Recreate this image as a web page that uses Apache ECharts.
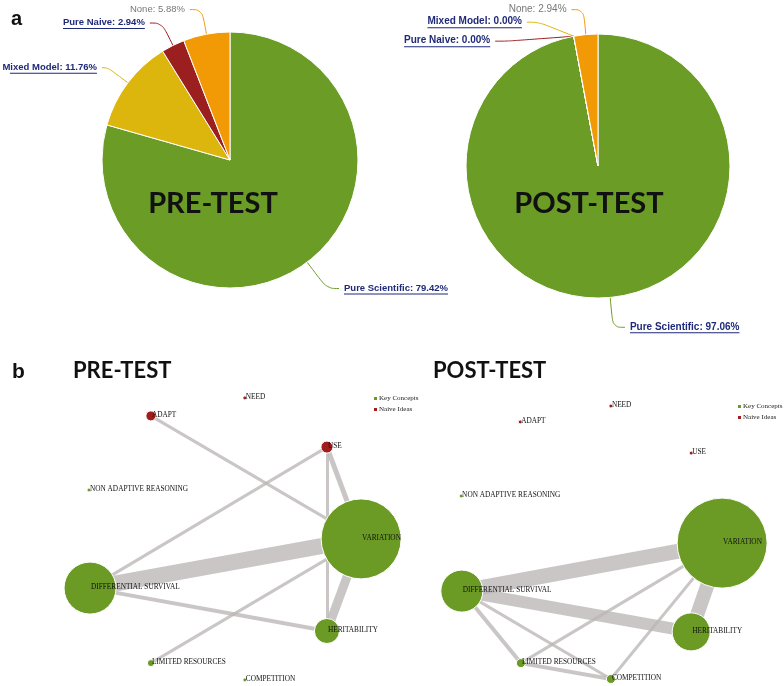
<!DOCTYPE html>
<html>
<head>
<meta charset="utf-8">
<script src="https://cdn.jsdelivr.net/npm/echarts@6/dist/echarts.min.js"></script>
<style>html,body{margin:0;padding:0;background:#fff;}#c{width:784px;height:686px;}</style>
</head>
<body>
<div id="c"></div>
<script>
// ---- Data: pie charts (a) ----
const pieNames = ['Pure Scientific', 'Mixed Model', 'Pure Naive', 'None'];
const preTestPct = [79.42, 11.76, 2.94, 5.88];
const postTestPct = [97.06, 0.00, 0.00, 2.94];

// ---- Data: concept networks (b) ----
const conceptNames = ['NEED', 'ADAPT', 'USE', 'NON ADAPTIVE REASONING', 'VARIATION',
  'DIFFERENTIAL SURVIVAL', 'HERITABILITY', 'LIMITED RESOURCES', 'COMPETITION'];
const conceptCategory = [1, 1, 1, 0, 0, 0, 0, 0, 0];
const categoryNames = ['Key Concepts', 'Naive Ideas'];
// node positions (0-100 layout space) and node sizes
const preX = [56.9, 30.8, 79.7, 13.6, 89.2, 13.9, 79.7, 30.8, 56.9];
const preY = [4.3, 10.3, 20.7, 35.0, 51.3, 67.7, 82.0, 92.7, 98.3];
const preSize = [4, 10, 12, 4, 80, 52, 25, 7, 4];
const postX = [55.8, 30.6, 78.1, 14.2, 86.7, 14.4, 78.1, 30.8, 55.8];
const postY = [7.0, 12.3, 22.7, 37.0, 52.7, 68.7, 82.3, 92.7, 98.0];
const postSize = [4, 4, 4, 4, 90, 42, 38, 9, 9];
// links: source, target, strength
const preLinks = [
  ['ADAPT', 'VARIATION', 3],
  ['USE', 'DIFFERENTIAL SURVIVAL', 3],
  ['USE', 'VARIATION', 5],
  ['USE', 'HERITABILITY', 3],
  ['DIFFERENTIAL SURVIVAL', 'VARIATION', 16],
  ['DIFFERENTIAL SURVIVAL', 'HERITABILITY', 4],
  ['VARIATION', 'HERITABILITY', 9],
  ['LIMITED RESOURCES', 'VARIATION', 3]
];
const postLinks = [
  ['DIFFERENTIAL SURVIVAL', 'VARIATION', 15],
  ['DIFFERENTIAL SURVIVAL', 'HERITABILITY', 12],
  ['VARIATION', 'HERITABILITY', 14],
  ['DIFFERENTIAL SURVIVAL', 'LIMITED RESOURCES', 4],
  ['DIFFERENTIAL SURVIVAL', 'COMPETITION', 3],
  ['LIMITED RESOURCES', 'VARIATION', 3],
  ['COMPETITION', 'VARIATION', 3],
  ['LIMITED RESOURCES', 'COMPETITION', 4]
];

// ---- Styles ----
const pieColors = ['#6a9c26', '#dcb60c', '#9c1f1f', '#f29a05'];
const nodeColors = ['#6b9b24', '#a11c1c'];
const labelBlue = '#1f2a78';

function pieSeries(values, center, radius, fs, lineLens) {
  return {
    type: 'pie',
    center: center,
    radius: radius,
    startAngle: 90,
    clockwise: true,
    silent: true,
    animation: false,
    itemStyle: { borderColor: '#fff', borderWidth: 1 },
    label: {
      show: true,
      position: 'outside',
      overflow: 'none',
      formatter: p => p.name === 'None'
        ? '{g|' + p.name + ': ' + p.value.toFixed(2) + '%}'
        : '{u|' + p.name + ': ' + p.value.toFixed(2) + '%}\n{l|}',
      rich: {
        u: { fontFamily: 'Liberation Sans', fontWeight: 'bold', fontSize: fs, color: labelBlue, lineHeight: 11 },
        l: { width: '100%', height: 1, lineHeight: 1, backgroundColor: labelBlue },
        g: { fontFamily: 'Liberation Sans', fontSize: fs, color: '#777', lineHeight: 12 }
      }
    },
    labelLine: { show: true, length: 25, length2: 12, smooth: 0.4, lineStyle: { width: 1 } },
    data: pieNames.map((n, i) => ({
      name: n, value: values[i], itemStyle: { color: pieColors[i] },
      labelLine: { length: lineLens[i][0], length2: lineLens[i][1], lineStyle: { color: pieColors[i] } }
    }))
  };
}

function graphSeries(idx, xs, ys, sizes, links) {
  return {
    type: 'graph',
    coordinateSystem: 'cartesian2d',
    xAxisIndex: idx, yAxisIndex: idx,
    animation: false,
    silent: true,
    categories: categoryNames.map((c, i) => ({ name: c, itemStyle: { color: nodeColors[i] } })),
    data: conceptNames.map((n, i) => ({
      name: n, value: [xs[i], ys[i]], symbolSize: sizes[i], category: conceptCategory[i]
    })),
    links: links.map(l => ({ source: l[0], target: l[1], lineStyle: { width: l[2] } })),
    itemStyle: { borderColor: '#fff', borderWidth: 1 },
    lineStyle: { color: '#bdb8b8', opacity: 0.8, curveness: 0 },
    label: {
      show: true, position: 'inside', align: 'left', verticalAlign: 'middle', offset: [1, -1],
      fontFamily: 'Liberation Serif', fontSize: 7.3, color: '#111'
    },
    z: 2
  };
}

const titleFont = 'Lato';
const legendText = { fontFamily: 'Liberation Serif', fontSize: 7, color: '#222', padding: [0, 0, 0, -4] };
const option = {
  animation: false,
  title: [
    { text: 'a', left: 11, top: 9, padding: 0, textStyle: { fontFamily: 'Liberation Sans', fontWeight: 'bold', fontSize: 20, color: '#111' } },
    { text: 'PRE-TEST', left: 213, top: 189, padding: 0, textAlign: 'center', textStyle: { fontFamily: titleFont, fontWeight: 'bold', fontSize: 29, color: '#111' } },
    { text: 'POST-TEST', left: 589, top: 189, padding: 0, textAlign: 'center', textStyle: { fontFamily: titleFont, fontWeight: 'bold', fontSize: 29, color: '#111' } },
    { text: 'b', left: 12, top: 362, padding: 0, textStyle: { fontFamily: 'Liberation Sans', fontWeight: 'bold', fontSize: 21, color: '#111' } },
    { text: 'PRE-TEST', left: 73, top: 360, padding: 0, textStyle: { fontFamily: titleFont, fontWeight: 'bold', fontSize: 22, color: '#111' } },
    { text: 'POST-TEST', left: 433, top: 360, padding: 0, textStyle: { fontFamily: titleFont, fontWeight: 'bold', fontSize: 22, color: '#111' } }
  ],
  legend: [
    { data: categoryNames, orient: 'vertical', left: 372, top: 395, padding: 0, itemWidth: 5, itemHeight: 5, itemGap: 4, icon: 'rect', selectedMode: false, textStyle: legendText },
    { data: categoryNames, orient: 'vertical', left: 736, top: 403, padding: 0, itemWidth: 5, itemHeight: 5, itemGap: 4, icon: 'rect', selectedMode: false, textStyle: legendText }
  ],
  grid: [
    { left: 40, top: 385, width: 360, height: 300 },
    { left: 410, top: 385, width: 360, height: 300 }
  ],
  xAxis: [
    { gridIndex: 0, type: 'value', min: 0, max: 100, show: false },
    { gridIndex: 1, type: 'value', min: 0, max: 100, show: false }
  ],
  yAxis: [
    { gridIndex: 0, type: 'value', min: 0, max: 100, inverse: true, show: false },
    { gridIndex: 1, type: 'value', min: 0, max: 100, inverse: true, show: false }
  ],
  series: [
    pieSeries(preTestPct, [230, 160], 128, 9.5, [[33, 12], [25, 6], [25, 12], [25, 12]]),
    pieSeries(postTestPct, [598, 166], 132, 10, [[30, 12], [25, 12], [25, 12], [25, 12]]),
    graphSeries(0, preX, preY, preSize, preLinks),
    graphSeries(1, postX, postY, postSize, postLinks)
  ]
};
const chart = echarts.init(document.getElementById('c'), null, { renderer: 'canvas' });
chart.setOption(option);
</script>
</body>
</html>
